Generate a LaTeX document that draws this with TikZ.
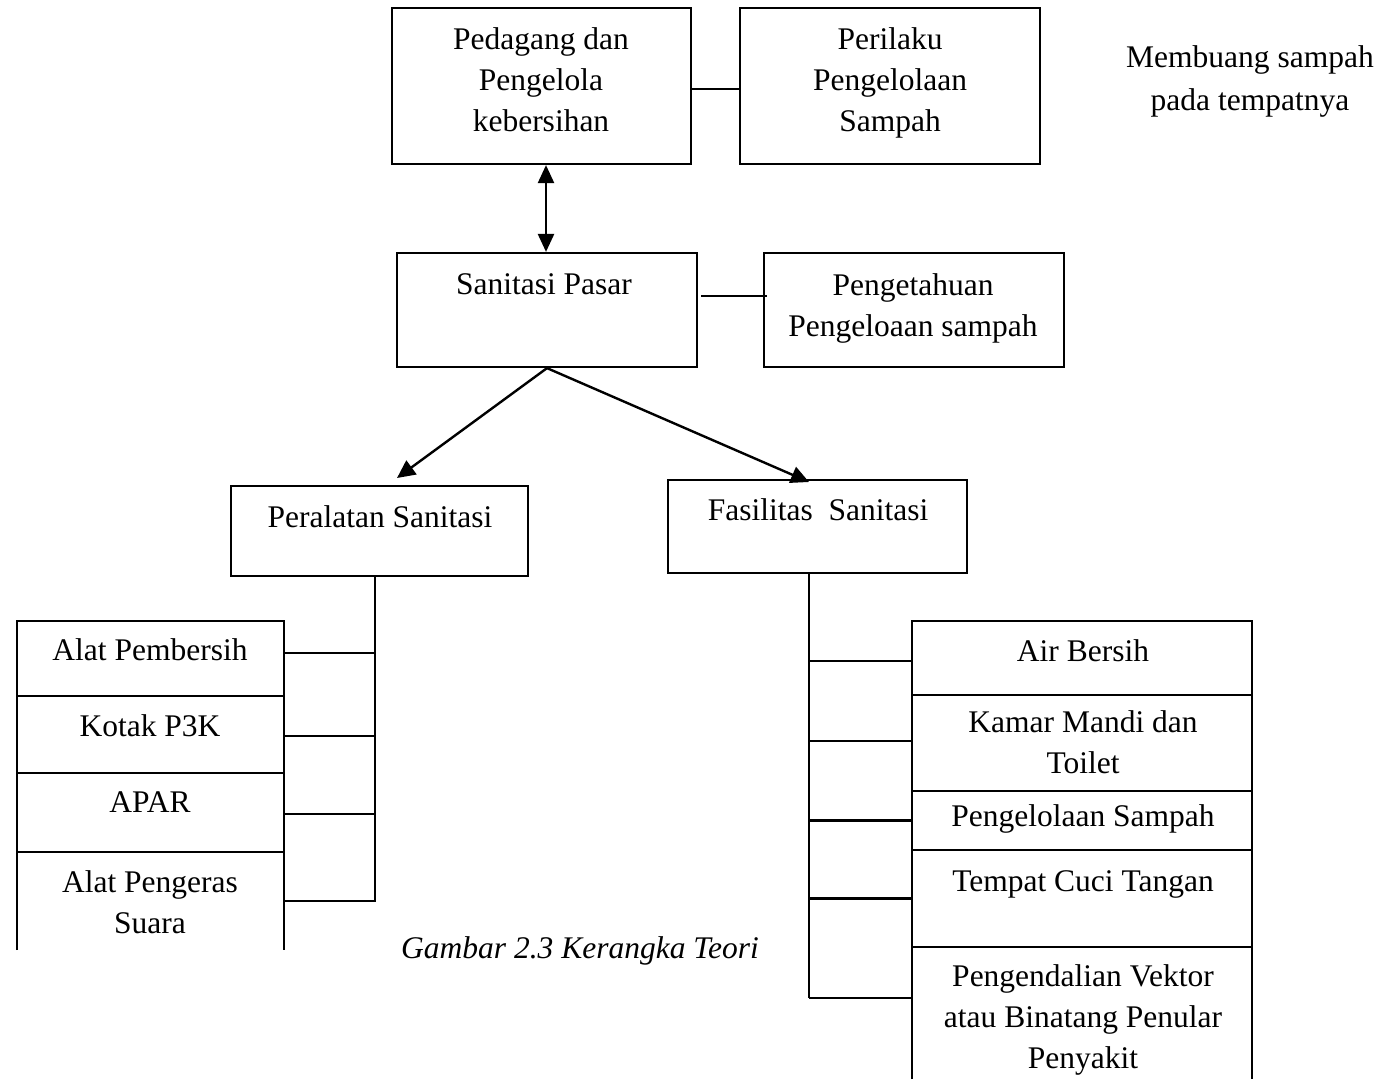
\documentclass[tikz,border=0pt]{standalone}
\usepackage{fontspec}
\setmainfont{Liberation Serif}
\usetikzlibrary{arrows.meta}
\begin{document}
\begin{tikzpicture}[x=1pt,y=-1pt,
  box/.style={draw, line width=2.2pt, inner sep=0pt},
  openbox/.style={inner sep=0pt},
  txt/.style={font=\fontsize{31.5}{41}\selectfont, align=center, anchor=base, inner sep=0pt},
  link/.style={line width=2.2pt},
  arr/.style={-{Triangle[length=18pt,width=17pt]}, line width=2.4pt},
  darr/.style={{Triangle[length=18pt,width=16pt]}-{Triangle[length=18pt,width=16pt]}, line width=2.4pt},
]
\useasboundingbox (0,0) rectangle (1396,1079);

% top row
\node[box, minimum width=299pt, minimum height=156pt] (b1) at (541.5,86) {};
\node[box, minimum width=300pt, minimum height=156pt] (b2) at (890,86) {};
\node[txt] (t1) at (541,131) {Pedagang dan\\Pengelola\\kebersihan};
\node[txt] (t2) at (890,131) {Perilaku\\Pengelolaan\\Sampah};
\node[txt, font=\fontsize{31.5}{43}\selectfont] (t0) at (1250,110) {Membuang sampah\\pada tempatnya};
\draw[link] ([yshift=-3pt]b1.east) -- ([yshift=-3pt]b2.west);

% second row
\node[box, minimum width=300pt, minimum height=114pt] (b3) at (547,310) {};
\node[box, minimum width=300pt, minimum height=114pt] (b4) at (914,310) {};
\node[txt] (t3) at (544,294) {Sanitasi Pasar};
\node[txt] (t4) at (913,336) {Pengetahuan\\Pengeloaan sampah};
\draw[darr] (b3.north -| 546,0) -- (b1.south -| 546,0);
\draw[link] ([shift={(3,-14)}]b3.east) -- ([shift={(4,-14)}]b4.west);

% third row
\node[box, minimum width=297pt, minimum height=90pt] (b5) at (379.5,531) {};
\node[box, minimum width=299pt, minimum height=93pt] (b6) at (817.5,526.5) {};
\node[txt] (t5) at (380,527) {Peralatan Sanitasi};
\node[txt] (t6) at (818,520) {Fasilitas\ \ Sanitasi};
\coordinate (a5) at (397,478);
\coordinate (a6) at (809,482);
\draw[arr] (b3.south) -- (a5);
\draw[arr] (b3.south) -- (a6);

% left stack
\node[box, minimum width=267pt, minimum height=75pt] (L1) at (150.5,658.5) {};
\node[box, minimum width=267pt, minimum height=77pt] (L2) at (150.5,734.5) {};
\node[box, minimum width=267pt, minimum height=79pt] (L3) at (150.5,812.5) {};
\node[openbox, minimum width=267pt, minimum height=98pt] (L4) at (150.5,901) {};
\draw[link] (L4.south west) -- (L4.north west) -- (L4.north east) -- (L4.south east);
\node[txt] (l1) at (150,660) {Alat Pembersih};
\node[txt] (l2) at (150,736) {Kotak P3K};
\node[txt] (l3) at (150,812) {APAR};
\node[txt] (l4) at (150,933) {Alat Pengeras\\Suara};
\coordinate (lt) at (375,576);
\coordinate (lb) at (375,902);
\draw[link] (lt) -- (lb);
\draw[link] ([yshift=5.5pt]L1.east) -- ([yshift=5.5pt]L1.east -| lt);
\draw[link] ([yshift=-1.5pt]L2.east) -- ([yshift=-1.5pt]L2.east -| lt);
\draw[link] ([yshift=-1.5pt]L3.east) -- ([yshift=-1.5pt]L3.east -| lt);
\draw[link] (L4.east) -- (L4.east -| lt);

% right stack
\node[box, minimum width=340pt, minimum height=74pt] (R1) at (1082,658) {};
\node[box, minimum width=340pt, minimum height=96pt] (R2) at (1082,743) {};
\node[box, minimum width=340pt, minimum height=59pt] (R3) at (1082,820.5) {};
\node[box, minimum width=340pt, minimum height=97pt] (R4) at (1082,898.5) {};
\node[openbox, minimum width=340pt, minimum height=132pt] (R5) at (1082,1013) {};
\draw[link] (R5.south west) -- (R5.north west) -- (R5.north east) -- (R5.south east);
\node[txt] (r1) at (1083,661) {Air Bersih};
\node[txt] (r2) at (1083,773) {Kamar Mandi dan\\Toilet};
\node[txt] (r3) at (1083,826) {Pengelolaan Sampah};
\node[txt] (r4) at (1083,891) {Tempat Cuci Tangan};
\node[txt] (r5) at (1083,1068) {Pengendalian Vektor\\atau Binatang Penular\\Penyakit};
\coordinate (rt) at (809,573);
\coordinate (rb) at (809,998);
\draw[link] (rt) -- (rb);
\draw[link] ([yshift=-3pt]R1.west) -- ([yshift=-3pt]R1.west -| rt);
\draw[link] ([yshift=2pt]R2.west) -- ([yshift=2pt]R2.west -| rt);
\draw[link] (R3.west) -- (R3.west -| rt);
\draw[link] (R4.west) -- (R4.west -| rt);
\draw[link] ([yshift=15pt]R5.west) -- ([yshift=15pt]R5.west -| rt);

% caption
\node[txt, font=\fontsize{31.5}{41}\selectfont\itshape] (cap) at (580,958) {Gambar 2.3 Kerangka Teori};
\end{tikzpicture}
\end{document}
